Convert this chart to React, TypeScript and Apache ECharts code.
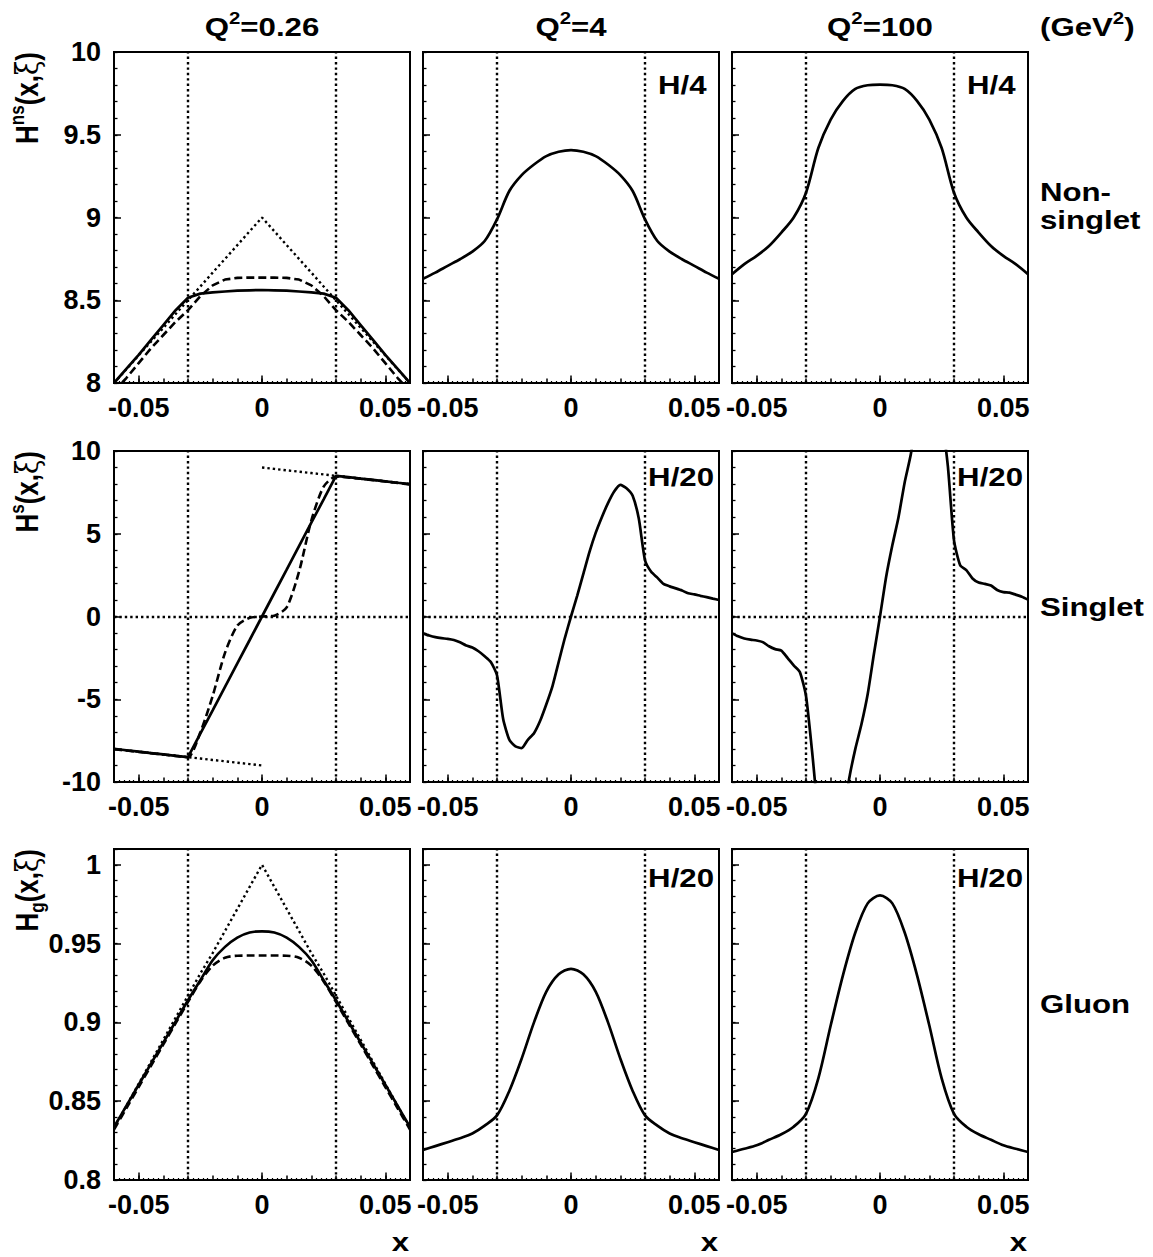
import React, { useEffect, useRef } from 'react';
import * as echarts from 'echarts';

// ---------------- data ----------------
const X5 = [-0.06, -0.055, -0.05, -0.045, -0.04, -0.035, -0.03, -0.025, -0.02, -0.015, -0.01, -0.005, 0,
  0.005, 0.01, 0.015, 0.02, 0.025, 0.03, 0.035, 0.04, 0.045, 0.05, 0.055, 0.06];
const X_NEG = [-0.06, -0.055, -0.05, -0.045, -0.04, -0.035, -0.03, -0.025, -0.02, -0.015, -0.01, -0.005, 0];
const X_POS = [0, 0.005, 0.01, 0.015, 0.02, 0.025, 0.03, 0.035, 0.04, 0.045, 0.05, 0.055, 0.06];
const X25 = [-0.06, -0.0575, -0.055, -0.0525, -0.05, -0.0475, -0.045, -0.0425, -0.04, -0.0375, -0.035, -0.0325,
  -0.03, -0.0275, -0.025, -0.0225, -0.02, -0.0175, -0.015, -0.0125, -0.01, -0.0075, -0.005, -0.0025, 0,
  0.0025, 0.005, 0.0075, 0.01, 0.0125, 0.015, 0.0175, 0.02, 0.0225, 0.025, 0.0275, 0.03, 0.0325, 0.035,
  0.0375, 0.04, 0.0425, 0.045, 0.0475, 0.05, 0.0525, 0.055, 0.0575, 0.06];

const XI_LINES = [-0.03, 0.03];
const ZERO_LINE = [0];
const X_TICK_LABELS = [-0.05, 0, 0.05];

// Non-singlet
const NS_026_SOLID = [8.0, 8.085, 8.17, 8.26, 8.35, 8.44, 8.515, 8.54, 8.548, 8.553, 8.558, 8.56, 8.562,
  8.56, 8.558, 8.553, 8.548, 8.54, 8.515, 8.44, 8.35, 8.26, 8.17, 8.085, 8.0];
const NS_026_DASHED = [7.95, 8.03, 8.12, 8.21, 8.29, 8.37, 8.44, 8.525, 8.59, 8.625, 8.635, 8.637, 8.637,
  8.637, 8.635, 8.625, 8.59, 8.525, 8.44, 8.37, 8.29, 8.21, 8.12, 8.03, 7.95];
const NS_026_DOTTED = [8.0, 8.083, 8.167, 8.25, 8.333, 8.417, 8.5, 8.583, 8.667, 8.75, 8.833, 8.917, 9.0,
  8.917, 8.833, 8.75, 8.667, 8.583, 8.5, 8.417, 8.333, 8.25, 8.167, 8.083, 8.0];
const NS_4 = [8.63, 8.667, 8.708, 8.748, 8.794, 8.858, 8.989, 9.16, 9.256, 9.32, 9.371, 9.397, 9.407,
  9.397, 9.371, 9.32, 9.256, 9.16, 8.989, 8.858, 8.794, 8.748, 8.708, 8.667, 8.63];
const NS_100 = [8.657, 8.718, 8.768, 8.828, 8.909, 9.0, 9.15, 9.42, 9.592, 9.705, 9.777, 9.799, 9.803,
  9.799, 9.777, 9.705, 9.592, 9.42, 9.15, 9.0, 8.909, 8.828, 8.768, 8.718, 8.657];

// Singlet
const S_026_SOLID = [-8.0, -8.08, -8.17, -8.25, -8.33, -8.42, -8.5, -7.08, -5.67, -4.25, -2.83, -1.42, 0,
  1.42, 2.83, 4.25, 5.67, 7.08, 8.5, 8.42, 8.33, 8.25, 8.17, 8.08, 8.0];
const S_026_DASHED = [-8.02, -8.1, -8.18, -8.26, -8.34, -8.42, -8.5, -7.0, -4.8, -2.2, -0.55, -0.08, 0,
  0.05, 0.55, 2.7, 5.8, 7.85, 8.45, 8.4, 8.32, 8.24, 8.16, 8.07, 7.98];
const S_026_DOT_NEG = [-8.0, -8.083, -8.167, -8.25, -8.333, -8.417, -8.5, -8.583, -8.667, -8.75, -8.833, -8.917, -9.0];
const S_026_DOT_POS = [9.0, 8.917, 8.833, 8.75, 8.667, 8.583, 8.5, 8.417, 8.333, 8.25, 8.167, 8.083, 8.0];
const S_4 = [-1.02, -1.15, -1.25, -1.31, -1.35, -1.42, -1.56, -1.75, -1.87, -2.1, -2.4, -2.75, -3.55, -6.2,
  -7.45, -7.85, -7.95, -7.45, -7.05, -6.3, -5.3, -4.2, -2.75, -1.3, 0, 1.25, 2.57, 3.9, 5.05, 6.0, 6.85, 7.55,
  7.95, 7.75, 7.3, 5.9, 3.4, 2.7, 2.35, 1.97, 1.82, 1.7, 1.57, 1.4, 1.34, 1.25, 1.17, 1.08, 1.0];
const S_100 = [-1.02, -1.2, -1.33, -1.4, -1.45, -1.55, -1.8, -1.97, -2.06, -2.5, -2.95, -3.35, -4.8, -8.2,
  -12, -14.2, -15, -14.6, -12.3, -9.8, -8.0, -6.5, -4.7, -2.3, 0, 2.4, 4.3, 6.0, 8.1, 9.8, 12.2, 14.5, 15,
  14.2, 12, 9.1, 4.6, 3.1, 2.8, 2.3, 2.05, 1.97, 1.87, 1.6, 1.47, 1.44, 1.32, 1.2, 1.02];

// Gluon
const G_026_SOLID = [0.8336, 0.847, 0.8604, 0.8738, 0.8872, 0.9006, 0.914, 0.9267, 0.9394, 0.9479, 0.9538,
  0.957, 0.9578, 0.957, 0.9538, 0.9479, 0.9394, 0.9267, 0.914, 0.9006, 0.8872, 0.8738, 0.8604, 0.847, 0.8336];
const G_026_DASHED = [0.832, 0.8455, 0.859, 0.8725, 0.886, 0.8995, 0.913, 0.926, 0.936, 0.941, 0.9423,
  0.9424, 0.9424, 0.9424, 0.9423, 0.941, 0.936, 0.926, 0.913, 0.8995, 0.886, 0.8725, 0.859, 0.8455, 0.832];
const G_026_DOTTED = [0.833, 0.847, 0.861, 0.875, 0.889, 0.903, 0.917, 0.931, 0.944, 0.958, 0.972, 0.986, 1.0,
  0.986, 0.972, 0.958, 0.944, 0.931, 0.917, 0.903, 0.889, 0.875, 0.861, 0.847, 0.833];
const G_4 = [0.819, 0.8215, 0.824, 0.8265, 0.8295, 0.8345, 0.841, 0.8565, 0.877, 0.9, 0.9195, 0.9305, 0.934,
  0.9305, 0.9195, 0.9, 0.877, 0.8565, 0.841, 0.8345, 0.8295, 0.8265, 0.824, 0.8215, 0.819];
const G_100 = [0.8178, 0.8198, 0.822, 0.8255, 0.829, 0.8338, 0.842, 0.8645, 0.898, 0.93, 0.957, 0.9755, 0.9806,
  0.9755, 0.957, 0.93, 0.898, 0.8645, 0.842, 0.8338, 0.829, 0.8255, 0.822, 0.8198, 0.8178];

const Q2_VALUES = ['0.26', '4', '100'];
const UNIT = 'GeV';
const SCALE_LABELS = [['', 'H/4', 'H/4'], ['', 'H/20', 'H/20'], ['', 'H/20', 'H/20']];
const ROW_LABELS = [['Non-', 'singlet'], ['Singlet'], ['Gluon']];
const Y_RANGES = [
  { min: 8, max: 10, major: 0.5, minor: 0.1 },
  { min: -10, max: 10, major: 5, minor: 1 },
  { min: 0.8, max: 1.01, major: 0.05, minor: 0.01 },
];

// ---------------- layout ----------------
const FONT = '"Liberation Sans", Arial, Helvetica, sans-serif';
const GL = [114, 423, 732];
const GT = [52, 451, 849];
const GW = 296;
const GH = 331;
const SX = 1.2;

type Curve = { x: number[]; y: number[]; s: 'solid' | 'dashed' | 'dotted'; smooth?: number | boolean };

const PANELS: Curve[][][] = [
  [
    [{ x: X5, y: NS_026_DOTTED, s: 'dotted' }, { x: X5, y: NS_026_DASHED, s: 'dashed' }, { x: X5, y: NS_026_SOLID, s: 'solid' }],
    [{ x: X5, y: NS_4, s: 'solid', smooth: 0.3 }],
    [{ x: X5, y: NS_100, s: 'solid', smooth: 0.3 }],
  ],
  [
    [{ x: X_NEG, y: S_026_DOT_NEG, s: 'dotted' }, { x: X_POS, y: S_026_DOT_POS, s: 'dotted' },
     { x: X5, y: S_026_DASHED, s: 'dashed', smooth: 0.25 }, { x: X5, y: S_026_SOLID, s: 'solid' }],
    [{ x: X25, y: S_4, s: 'solid', smooth: 0.2 }],
    [{ x: X25, y: S_100, s: 'solid', smooth: 0.2 }],
  ],
  [
    [{ x: X5, y: G_026_DOTTED, s: 'dotted' }, { x: X5, y: G_026_DASHED, s: 'dashed', smooth: 0.3 }, { x: X5, y: G_026_SOLID, s: 'solid', smooth: 0.3 }],
    [{ x: X5, y: G_4, s: 'solid', smooth: 0.3 }],
    [{ x: X5, y: G_100, s: 'solid', smooth: 0.3 }],
  ],
];

const LINE_TYPES: Record<string, any> = {
  solid: { type: 'solid', width: 2.7 },
  dashed: { type: [8, 4], width: 2.6 },
  dotted: { type: [2.4, 3], width: 2.4 },
};

function near(v: number, step: number) {
  const k = v / step;
  return Math.abs(k - Math.round(k)) < 1e-6;
}

const RICH = {
  b: { fontSize: 26, fontWeight: 'bold', fontFamily: FONT, fill: '#000', lineHeight: 34, verticalAlign: 'middle' },
  sup: { fontSize: 17, fontWeight: 'bold', fontFamily: FONT, fill: '#000', verticalAlign: 'top', lineHeight: 34 },
  sub: { fontSize: 17, fontWeight: 'bold', fontFamily: FONT, fill: '#000', verticalAlign: 'bottom', lineHeight: 34 },
  xi: { fontSize: 26, fontWeight: 'normal', fontFamily: '"DejaVu Serif", "Liberation Serif", serif', fill: '#000', lineHeight: 34, verticalAlign: 'middle' },
};

function txt(text: string, x: number, y: number, align: string, extra: any = {}) {
  return {
    type: 'text', x, y, scaleX: SX, silent: true,
    style: {
      text, rich: RICH, fill: '#000', font: `bold 26px ${FONT}`,
      align, textAlign: align, verticalAlign: 'middle', textVerticalAlign: 'middle',
    },
    ...extra,
  };
}

function yTitle(text: string, row: number) {
  return {
    type: 'text', x: 27, y: GT[row], rotation: Math.PI / 2, scaleY: SX, silent: true,
    style: {
      text, rich: RICH, fill: '#000', font: `bold 26px ${FONT}`,
      align: 'right', textAlign: 'right', verticalAlign: 'middle', textVerticalAlign: 'middle',
    },
  };
}

function buildOption() {
  const grid: any[] = [];
  const xAxis: any[] = [];
  const yAxis: any[] = [];
  const series: any[] = [];
  const tickStyle = { color: '#000', width: 1.5 };
  const labelBase = { fontSize: 27, fontWeight: 'bold', fontFamily: FONT, color: '#000' };

  for (let r = 0; r < 3; r++) {
    for (let c = 0; c < 3; c++) {
      const gi = r * 3 + c;
      const yr = Y_RANGES[r];
      grid.push({
        left: GL[c], top: GT[r], width: GW, height: GH, show: true,
        borderColor: '#000', borderWidth: 2, backgroundColor: 'transparent',
      });
      const xMain = xAxis.length;
      xAxis.push({
        gridIndex: gi, type: 'value', min: -0.06, max: 0.06, interval: 0.01, position: 'bottom',
        axisLine: { show: false, onZero: false }, splitLine: { show: false },
        axisTick: { show: true, inside: true, length: 4.5, lineStyle: tickStyle },
        minorTick: { show: true, splitNumber: 5, length: 2, lineStyle: { color: '#000', width: 1.2 } },
        axisLabel: {
          ...labelBase, margin: 11, showMinLabel: true, showMaxLabel: true, hideOverlap: false,
          formatter: (v: number) => (near(v, 0.05) && X_TICK_LABELS.some((t) => Math.abs(t - v) < 1e-9)
            ? (Math.abs(v) < 1e-9 ? '0' : v.toFixed(2)) : ''),
        },
      });
      xAxis.push({
        gridIndex: gi, type: 'value', min: -0.06, max: 0.06, position: 'bottom',
        axisLine: { show: false, onZero: false }, splitLine: { show: false }, axisLabel: { show: false },
        axisTick: { show: true, inside: true, length: 7.5, customValues: X_TICK_LABELS, lineStyle: tickStyle },
      });
      const yMain = yAxis.length;
      yAxis.push({
        gridIndex: gi, type: 'value', min: yr.min, max: yr.max, interval: yr.major, position: 'left',
        axisLine: { show: false, onZero: false }, splitLine: { show: false },
        axisTick: { show: true, inside: true, length: 7, lineStyle: tickStyle },
        axisLabel: {
          ...labelBase, show: c === 0, margin: 13, showMinLabel: true, showMaxLabel: true,
          formatter: (v: number) => (near(v, yr.major) ? String(v) : ''),
        },
      });
      yAxis.push({
        gridIndex: gi, type: 'value', min: yr.min, max: yr.max, interval: yr.minor, position: 'left',
        axisLine: { show: false, onZero: false }, splitLine: { show: false }, axisLabel: { show: false },
        axisTick: { show: true, inside: true, length: 3.5, lineStyle: { color: '#000', width: 1.3 } },
      });

      const curves = PANELS[r][c];
      curves.forEach((cv, k) => {
        const s: any = {
          type: 'line', xAxisIndex: xMain, yAxisIndex: yMain, silent: true,
          data: cv.x.map((x, i) => [x, cv.y[i]]),
          showSymbol: false, symbol: 'none', smooth: cv.smooth || false, clip: true,
          lineStyle: { color: '#000', ...LINE_TYPES[cv.s] },
          z: 3 + k,
        };
        if (k === 0) {
          const ml: any[] = XI_LINES.map((v) => ({ xAxis: v }));
          if (r === 1) ZERO_LINE.forEach((v) => ml.push({ yAxis: v }));
          s.markLine = {
            silent: true, symbol: ['none', 'none'], label: { show: false },
            lineStyle: { color: '#000', type: [2.4, 3], width: 2.4 },
            emphasis: { disabled: true }, data: ml, z: 2,
          };
        }
        series.push(s);
      });
    }
  }

  const graphic: any[] = [];
  Q2_VALUES.forEach((q, c) => graphic.push(txt(`{b|Q}{sup|2}{b|=${q}}`, GL[c] + GW / 2, 27, 'center')));
  graphic.push(txt(`{b|(${UNIT}}{sup|2}{b|)}`, 1040, 27, 'left'));
  SCALE_LABELS.forEach((row, r) => row.forEach((t, c) => {
    if (!t) return;
    const yy = r === 0 ? 85 : r === 1 ? 477 : 878;
    const rx = GL[c] + GW - (r === 0 ? 12.5 : 5);
    graphic.push(txt(`{b|${t}}`, rx, yy, 'right'));
  }));
  const rowY = [[192, 220], [607], [1004]];
  ROW_LABELS.forEach((lines, r) => lines.forEach((t, i) => graphic.push(txt(`{b|${t}}`, 1040, rowY[r][i], 'left'))));
  [0, 1, 2].forEach((c) => graphic.push(txt('{b|x}', GL[c] + GW - 1, 1242, 'right')));

  graphic.push(yTitle('{b|H}{sup|ns}{b|(x,}{xi|ξ}{b|)}', 0));
  graphic.push(yTitle('{b|H}{sup|s}{b|(x,}{xi|ξ}{b|)}', 1));
  graphic.push(yTitle('{b|H}{sub|g}{b|(x,}{xi|ξ}{b|)}', 2));

  return { animation: false, backgroundColor: '#fff', grid, xAxis, yAxis, series, graphic };
}

export default function App() {
  const ref = useRef<HTMLDivElement>(null);
  useEffect(() => {
    if (!ref.current) return;
    const chart = echarts.init(ref.current, undefined, { renderer: 'svg' });
    chart.setOption(buildOption() as any);
    return () => chart.dispose();
  }, []);
  return <div ref={ref} style={{ position: 'absolute', left: 0, top: 0, width: 1153, height: 1257, background: '#fff' }} />;
}
